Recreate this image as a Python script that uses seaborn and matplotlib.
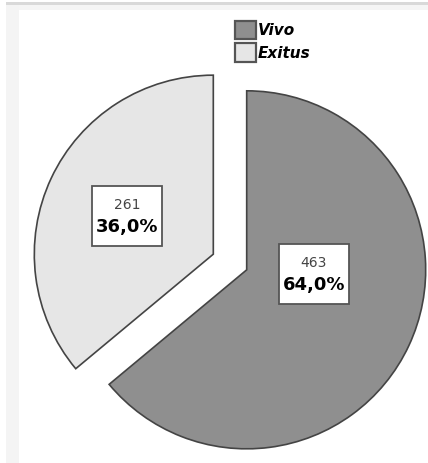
import numpy as np
import seaborn as sns
import matplotlib.pyplot as plt
from matplotlib.patches import Rectangle

# data
labels = ["Vivo", "Exitus"]
counts = [463, 261]
slice_colors = ["#8f8f8f", "#e6e6e6"]

sns.set_theme(style="white")
plt.rcParams['font.family'] = ['DejaVu Sans']

W, H = 428, 463
fig = plt.figure(figsize=(W / 100, H / 100), dpi=100)
fig.patch.set_facecolor("white")

# window decoration (gray band on top, light strip on left)
fig.patches.append(Rectangle((6 / W, 1 - 5 / H), 1, 3 / H, transform=fig.transFigure,
                             facecolor="#d9d9d9", edgecolor="none", zorder=0))
fig.patches.append(Rectangle((6 / W, 1 - 10 / H), 1, 5 / H, transform=fig.transFigure,
                             facecolor="#f5f5f5", edgecolor="none", zorder=0))
fig.patches.append(Rectangle((6 / W, 0), 13 / W, 1 - 5 / H, transform=fig.transFigure,
                             facecolor="#f4f4f4", edgecolor="none", zorder=0))

ax = fig.add_axes([0, 0, 1, 1])
ax.patch.set_alpha(0)

r_px = 179.0
cx, cy = 230.0, 262.0  # pie centre in pixels from top-left

total = sum(counts)
pcts = [c / total * 100 for c in counts]

wedges, _ = ax.pie(counts, colors=slice_colors, startangle=90, counterclock=False,
                   explode=[0.103, 0.103], radius=1,
                   wedgeprops=dict(edgecolor="#444444", linewidth=1.2))

ax.set_xlim(-cx / r_px, (W - cx) / r_px)
ax.set_ylim(-(H - cy) / r_px, cy / r_px)
ax.set_aspect("auto")
ax.axis("off")

# label boxes: (angle deg, distance) from each wedge's own centre
label_pos = [(-3.4, 0.375), (156.0, 0.525)]
bw, bh = 70 / r_px, 60 / r_px
for w, n, p, (ang, dist) in zip(wedges, counts, pcts, label_pos):
    x0, y0 = w.center
    x = x0 + dist * np.cos(np.radians(ang))
    y = y0 + dist * np.sin(np.radians(ang))
    ax.add_patch(Rectangle((x - bw / 2, y - bh / 2), bw, bh, facecolor="white",
                           edgecolor="#555555", linewidth=1.3, zorder=5))
    ax.text(x, y + 11 / r_px, str(n), ha="center", va="center", fontsize=10,
            color="#444444", zorder=6)
    ax.text(x, y - 11 / r_px, f"{p:.1f}%".replace(".", ","), ha="center", va="center",
            fontsize=13, fontweight="bold", color="black", zorder=6)

leg = fig.legend(wedges, labels, loc="upper left", bbox_to_anchor=(235 / W, 1 - 21 / H),
                 frameon=False, borderpad=0, borderaxespad=0, handlelength=1.35,
                 handleheight=1.45, handletextpad=0.12, labelspacing=0.28,
                 prop=dict(size=11, weight="bold", style="italic"))
for t in leg.get_texts():
    t.set_color("black")
for h in leg.legend_handles:
    h.set_linewidth(1.6)
    h.set_edgecolor("#555555")

fig.savefig("out.png", dpi=100)
